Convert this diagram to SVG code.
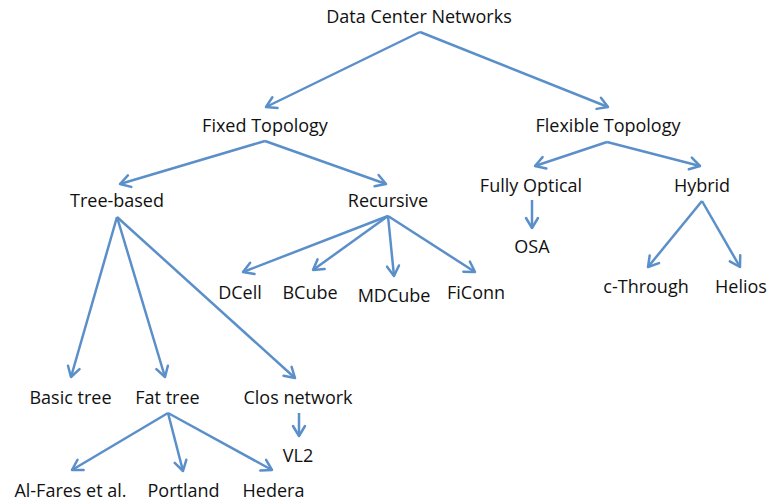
<svg xmlns="http://www.w3.org/2000/svg" width="767" height="502" viewBox="0 0 767 502">
<defs>
<marker id="ah" markerUnits="userSpaceOnUse" markerWidth="16" markerHeight="16" refX="12" refY="8" orient="auto">
<path d="M2,2 L12,8 L2,14" fill="none" stroke="#5b8fc9" stroke-width="2.5" stroke-linecap="round" stroke-linejoin="round"/>
</marker>
<style>
text{font-family:"Open Sans","Liberation Sans",sans-serif;font-size:18px;fill:#111;text-anchor:middle}
.c line{stroke:#5b8fc9;stroke-width:2.5;marker-end:url(#ah)}
</style>
</defs>
<rect width="767" height="502" fill="#fff"/>
<g class="c" id="connectors">
<line x1="420" y1="32" x2="266" y2="107"/>
<line x1="420" y1="32" x2="608" y2="107"/>
<line x1="265" y1="141" x2="120" y2="184"/>
<line x1="265" y1="141" x2="386" y2="184"/>
<line x1="607" y1="142" x2="535" y2="166"/>
<line x1="607" y1="142" x2="700" y2="166"/>
<line x1="117" y1="217" x2="71" y2="377"/>
<line x1="117" y1="217" x2="165" y2="377"/>
<line x1="117" y1="217" x2="295" y2="378"/>
<line x1="388" y1="216" x2="243" y2="272"/>
<line x1="388" y1="216" x2="313" y2="270"/>
<line x1="388" y1="216" x2="394" y2="276"/>
<line x1="388" y1="216" x2="475" y2="272"/>
<line x1="532" y1="200" x2="532" y2="228"/>
<line x1="702" y1="201" x2="648" y2="267"/>
<line x1="702" y1="201" x2="740" y2="267"/>
<line x1="299" y1="413" x2="299" y2="436"/>
<line x1="168" y1="413" x2="72" y2="470"/>
<line x1="168" y1="413" x2="183" y2="471"/>
<line x1="168" y1="413" x2="272" y2="470"/>
</g>
<g id="n-root"><text x="419" y="23">Data Center Networks</text></g>
<g id="n-fixed"><text x="265" y="132">Fixed Topology</text></g>
<g id="n-flex"><text x="608" y="132">Flexible Topology</text></g>
<g id="n-tree"><text x="117" y="207">Tree-based</text></g>
<g id="n-rec"><text x="388" y="207">Recursive</text></g>
<g id="n-fo"><text x="531" y="192">Fully Optical</text></g>
<g id="n-hyb"><text x="702" y="192">Hybrid</text></g>
<g id="n-dcell"><text x="240" y="299">DCell</text></g>
<g id="n-bcube"><text x="310" y="299">BCube</text></g>
<g id="n-mdcube"><text x="394" y="302">MDCube</text></g>
<g id="n-ficonn"><text x="476" y="299">FiConn</text></g>
<g id="n-osa"><text x="532" y="253">OSA</text></g>
<g id="n-cthrough"><text x="646" y="293">c-Through</text></g>
<g id="n-helios"><text x="741" y="293">Helios</text></g>
<g id="n-basic"><text x="70.5" y="404">Basic tree</text></g>
<g id="n-fat"><text x="167.5" y="404">Fat tree</text></g>
<g id="n-clos"><text x="298" y="404">Clos network</text></g>
<g id="n-vl2"><text x="298" y="462">VL2</text></g>
<g id="n-alfares"><text x="70.5" y="497">Al-Fares et al.</text></g>
<g id="n-portland"><text x="183.5" y="497">Portland</text></g>
<g id="n-hedera"><text x="273.5" y="497">Hedera</text></g>
</svg>
